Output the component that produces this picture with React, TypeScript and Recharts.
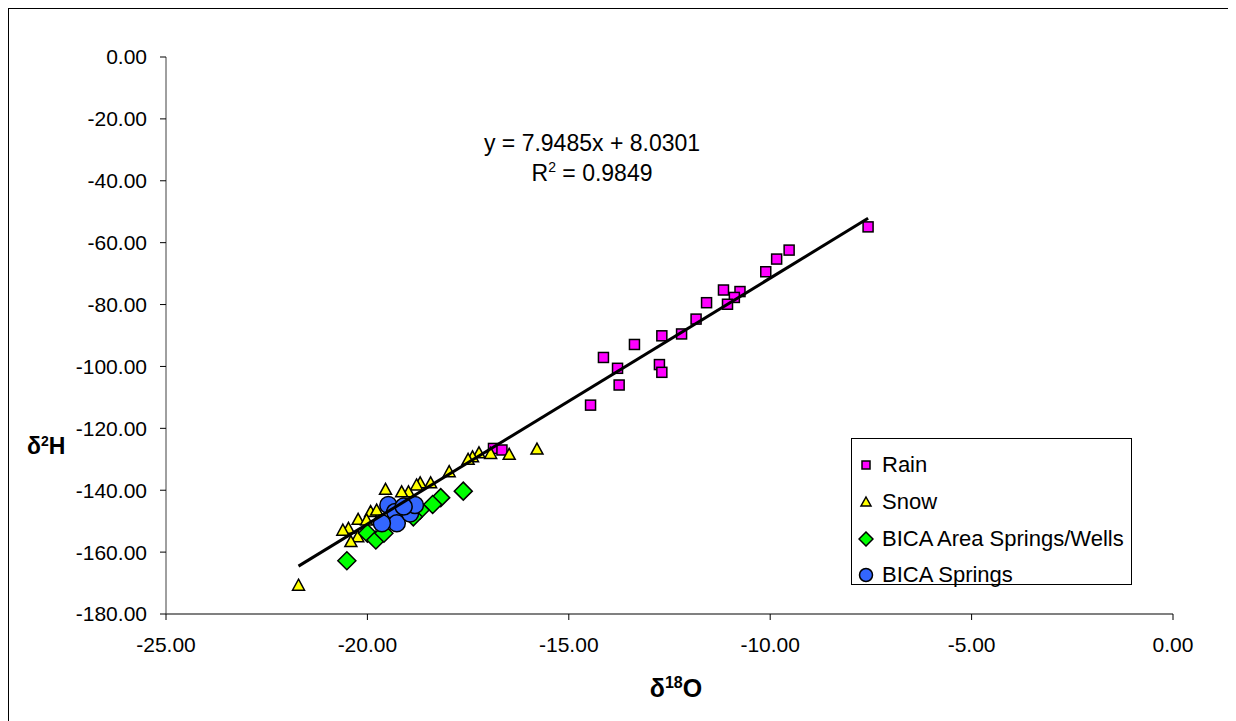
import * as React from "react";
import { Scatter, ScatterChart, XAxis, YAxis } from "recharts";

type Pt = { x: number; y: number };

const rainO18 = [-9.53, -9.84, -10.11, -10.75, -10.89, -11.16, -11.06, -11.58, -11.84, -12.2, -12.69, -12.75, -12.69, -13.37, -13.79, -13.75, -14.14, -14.46, -7.57, -16.87, -16.66];
const rainH2 = [-62.4, -65.3, -69.4, -75.8, -77.7, -75.3, -79.9, -79.4, -84.7, -89.5, -90.1, -99.4, -101.9, -92.9, -100.6, -106.0, -97.1, -112.5, -54.9, -126.5, -127.0];

const snowO18 = [-21.71, -16.48, -16.94, -17.23, -17.39, -17.5, -17.97, -18.43, -18.69, -18.78, -18.98, -19.15, -19.55, -19.92, -20.23, -20.47, -20.61, -20.24, -20.41, -19.77, -20.02, -15.79];
const snowH2 = [-170.7, -128.4, -128.1, -127.9, -129.2, -130.0, -134.0, -137.6, -137.6, -138.3, -140.5, -140.5, -139.7, -146.9, -149.4, -152.3, -152.9, -155.0, -156.6, -146.4, -149.6, -126.7];

const areaO18 = [-20.51, -17.62, -18.18, -18.38, -20.0, -19.79, -19.59, -18.69, -18.86];
const areaH2 = [-162.8, -140.3, -142.4, -144.6, -153.9, -156.1, -153.9, -146.4, -148.6];

const springO18 = [-19.48, -19.31, -19.27, -18.94, -18.82, -19.64, -19.1];
const springH2 = [-144.8, -147.0, -150.7, -147.5, -144.8, -150.7, -145.3];

const slope = 7.9485;
const intercept = 8.0301;

const xTicks = [-25, -20, -15, -10, -5, 0];
const yTicks = [-180, -160, -140, -120, -100, -80, -60, -40, -20, 0];

const FONT = "'Liberation Sans', Arial, sans-serif";

function zip(xs: number[], ys: number[]): Pt[] {
  return xs.map((x, i) => ({ x, y: ys[i] }));
}

const rain = zip(rainO18, rainH2);
const snow = zip(snowO18, snowH2);
const area = zip(areaO18, areaH2);
const springs = zip(springO18, springH2);

// trendline drawn over the x range of the data
const allX = [...rainO18, ...snowO18, ...areaO18, ...springO18];
const xMin = Math.min(...allX);
const xMax = Math.max(...allX);
const trend: Pt[] = [
  { x: xMin, y: slope * xMin + intercept },
  { x: xMax, y: slope * xMax + intercept }
];

const SquareShape = (p: any) => (
  <rect x={p.cx - 5} y={p.cy - 5} width={10} height={10} fill="#FF00FF" stroke="#000" strokeWidth={1.5} />
);
const TriangleShape = (p: any) => (
  <polygon
    points={`${p.cx},${p.cy - 6} ${p.cx + 6},${p.cy + 5} ${p.cx - 6},${p.cy + 5}`}
    fill="#FFFF00"
    stroke="#000"
    strokeWidth={1.5}
  />
);
const DiamondShape = (p: any) => (
  <polygon
    points={`${p.cx},${p.cy - 9} ${p.cx + 9},${p.cy} ${p.cx},${p.cy + 9} ${p.cx - 9},${p.cy}`}
    fill="#00FF00"
    stroke="#000"
    strokeWidth={1.5}
  />
);
const CircleShape = (p: any) => (
  <circle cx={p.cx} cy={p.cy} r={8.5} fill="#3366FF" stroke="#000" strokeWidth={1.5} />
);
const NoShape = () => <g />;

const legendItems = [
  { name: "Rain", icon: <rect x={4} y={4} width={8} height={8} fill="#FF00FF" stroke="#000" strokeWidth={1.5} /> },
  { name: "Snow", icon: <polygon points="8,3 13,12 3,12" fill="#FFFF00" stroke="#000" strokeWidth={1.5} /> },
  { name: "BICA Area Springs/Wells", icon: <polygon points="8,1 15,8 8,15 1,8" fill="#00FF00" stroke="#000" strokeWidth={1.5} /> },
  { name: "BICA Springs", icon: <circle cx={8} cy={8} r={6.5} fill="#3366FF" stroke="#000" strokeWidth={1.5} /> }
];

const fmt = (v: number) => v.toFixed(2);

export default function App() {
  return (
    <div
      style={{
        position: "relative",
        width: 1224,
        height: 720,
        border: "1px solid #000",
        fontFamily: FONT,
        color: "#000",
        background: "#fff"
      }}
    >
      <ScatterChart width={1224} height={712} margin={{ top: 48, right: 60, left: 0, bottom: 77 }}>
        <XAxis
          type="number"
          dataKey="x"
          domain={[-25, 0]}
          ticks={xTicks}
          tickFormatter={fmt}
          allowDataOverflow
          height={30}
          tickSize={6}
          tickMargin={17}
          axisLine={{ stroke: "#808080", strokeWidth: 2 }}
          tickLine={{ stroke: "#000" }}
          tick={{ fill: "#000", fontSize: 21, fontFamily: FONT }}
        />
        <YAxis
          type="number"
          dataKey="y"
          domain={[-180, 0]}
          ticks={yTicks}
          tickFormatter={fmt}
          allowDataOverflow
          width={157}
          tickSize={6}
          tickMargin={13}
          axisLine={{ stroke: "#404040" }}
          tickLine={{ stroke: "#000" }}
          tick={{ fill: "#000", fontSize: 21, fontFamily: FONT }}
        />
        <Scatter name="Rain" data={rain} shape={SquareShape} isAnimationActive={false} />
        <Scatter name="Snow" data={snow} shape={TriangleShape} isAnimationActive={false} />
        <Scatter name="BICA Area Springs/Wells" data={area} shape={DiamondShape} isAnimationActive={false} />
        <Scatter name="BICA Springs" data={springs} shape={CircleShape} isAnimationActive={false} />
        <Scatter
          name="trend"
          data={trend}
          shape={NoShape}
          line={{ stroke: "#000", strokeWidth: 3 }}
          legendType="none"
          isAnimationActive={false}
        />
      </ScatterChart>

      <div style={{ position: "absolute", left: 425, top: 119, width: 316, textAlign: "center", fontSize: 23, lineHeight: "30px" }}>
        <div>y = 7.9485x + 8.0301</div>
        <div>
          R<sup style={{ fontSize: 14, verticalAlign: "top", lineHeight: "18px" }}>2</sup> = 0.9849
        </div>
      </div>

      <div style={{ position: "absolute", left: 18, top: 424, fontSize: 23, fontWeight: "bold" }}>
        δ<sup style={{ fontSize: 14, verticalAlign: "top", lineHeight: "16px" }}>2</sup>H
      </div>

      <div style={{ position: "absolute", left: 567, top: 665, width: 200, textAlign: "center", fontSize: 25, fontWeight: "bold" }}>
        δ<sup style={{ fontSize: 16, verticalAlign: "top", lineHeight: "18px" }}>18</sup>O
      </div>

      <div
        style={{
          position: "absolute",
          left: 842,
          top: 429,
          width: 281,
          height: 147,
          border: "1px solid #000",
          boxSizing: "border-box",
          background: "#fff",
          fontSize: 22,
          paddingTop: 8
        }}
      >
        {legendItems.map((it) => (
          <div key={it.name} style={{ display: "flex", alignItems: "center", height: 36.7, paddingLeft: 6 }}>
            <svg width={16} height={16} style={{ marginRight: 8 }}>
              {it.icon}
            </svg>
            <span style={{ whiteSpace: "nowrap" }}>{it.name}</span>
          </div>
        ))}
      </div>
    </div>
  );
}
